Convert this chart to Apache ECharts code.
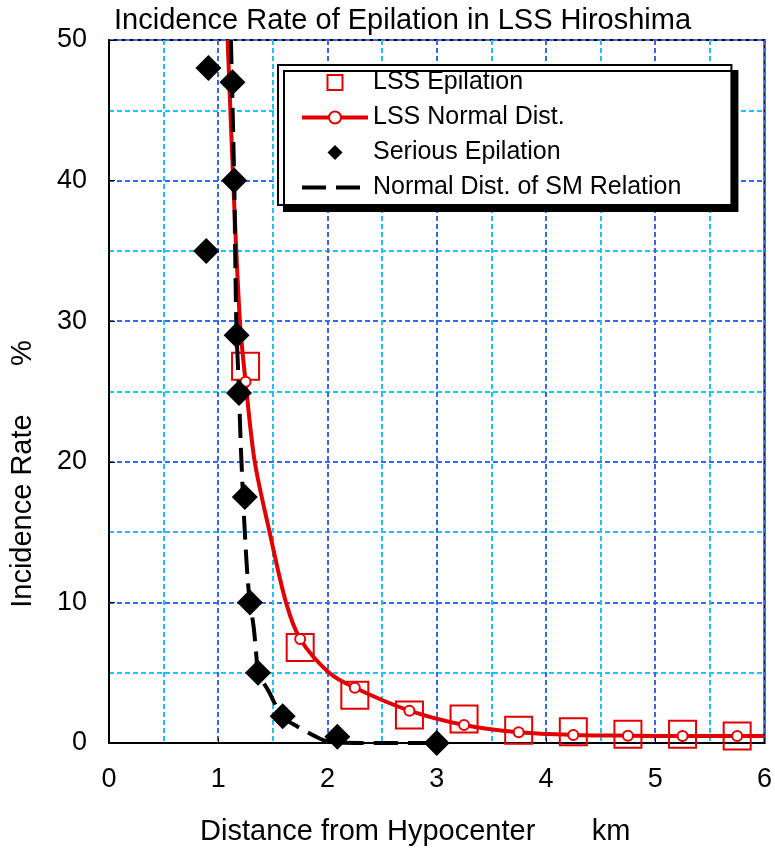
<!DOCTYPE html>
<html>
<head>
<meta charset="utf-8">
<title>Incidence Rate of Epilation in LSS Hiroshima</title>
<script src="https://cdn.jsdelivr.net/npm/echarts@6/dist/echarts.min.js"></script>
<style>
  html, body { margin: 0; padding: 0; background: #fff; }
  #chart { width: 775px; height: 853px; }
</style>
</head>
<body>
<div id="chart"></div>
<script>
// LSS epilation, open squares
const lssX = [1.25, 1.75, 2.25, 2.75, 3.25, 3.75, 4.25, 4.75, 5.25, 5.75];
const lssY = [26.8, 6.8, 3.4, 2.0, 1.7, 0.9, 0.8, 0.63, 0.63, 0.5];

// LSS normal distribution curve (circles sit on the lssX positions)
const normX = [1.086, 1.137, 1.198, 1.25, 1.334, 1.47, 1.62, 1.75, 2.015, 2.25, 2.75, 3.25, 3.75, 4.25, 4.75, 5.25, 5.75, 6.0];
const normY = [50, 40, 30, 25.7, 20, 15, 10, 7.4, 5, 3.93, 2.3, 1.28, 0.76, 0.57, 0.52, 0.5, 0.5, 0.5];

// serious epilation, diamonds
const sevX = [0.91, 1.13, 1.146, 0.89, 1.168, 1.19, 1.243, 1.29, 1.364, 1.59, 2.09, 3.0];
const sevY = [48, 47, 40, 35, 29, 24.9, 17.5, 10, 5, 1.9, 0.45, 0];

// normal dist. of SM relation, dashed black
const smX = [1.116, 1.146, 1.165, 1.19, 1.207, 1.243, 1.27, 1.29, 1.325, 1.35, 1.364, 1.455, 1.59, 1.727, 1.894, 2.01, 2.3, 3.0];
const smY = [50, 40, 30, 25, 21, 15, 11.6, 10, 8.2, 6.1, 5, 3.77, 1.87, 1.16, 0.45, 0.1, 0, 0];

const xTicks = [0, 6, 1];
const yTicks = [0, 50, 10];

const FONT = "'Liberation Sans', Arial, sans-serif";
const RED = "#e00000";

let chart = echarts.init(document.getElementById("chart"));

const normData = normX.map((x, i) => {
  const marked = lssX.indexOf(x) >= 0;
  return { value: [x, normY[i]], symbol: marked ? "circle" : "none" };
});

const option = {
  animation: false,
  title: {
    text: "Incidence Rate of Epilation in LSS Hiroshima",
    left: 109,
    top: 1,
    textStyle: { fontSize: 29, fontWeight: "normal", color: "#000", fontFamily: FONT },
  },
  legend: {
    orient: "vertical",
    left: 278,
    top: 65,
    padding: [5, 50, 5, 22],
    itemGap: 10,
    itemWidth: 66,
    itemHeight: 15,
    selectedMode: false,
    backgroundColor: "#fff",
    borderColor: "#000",
    borderWidth: 2,
    borderRadius: 0,
    shadowColor: "#000",
    shadowBlur: 0,
    shadowOffsetX: 6,
    shadowOffsetY: 6,
    lineStyle: { width: 4 },
    textStyle: { fontSize: 25, color: "#000", fontFamily: FONT },
    data: [
      {
        name: "LSS Epilation",
        icon: "path://M0 0H10V10H0Z",
        itemStyle: { color: "transparent", borderColor: RED, borderWidth: 2 },
      },
      { name: "LSS Normal Dist." },
      { name: "Serious Epilation", icon: "path://M5 0L10 5L5 10L0 5Z" },
      {
        name: "Normal Dist. of SM Relation",
        itemStyle: { color: "transparent", borderColor: "transparent", borderWidth: 0, opacity: 0 },
      },
    ],
  },
  grid: {
    left: 108,
    right: 6,
    top: 40,
    bottom: 110,
    show: true,
    borderColor: "#000",
    borderWidth: 2,
    backgroundColor: "transparent",
  },
  xAxis: {
    type: "value",
    min: xTicks[0],
    max: xTicks[1],
    interval: xTicks[2],
    name: "Distance from Hypocenter       km",
    nameLocation: "middle",
    nameGap: 74,
    nameTextStyle: { fontSize: 29, color: "#000", fontFamily: FONT, padding: [0, 43, 0, 0] },
    axisLine: { show: true, lineStyle: { color: "#000", width: 2 } },
    axisTick: { show: true, inside: true, length: 5, lineStyle: { color: "#000" } },
    axisLabel: { fontSize: 27, color: "#000", fontFamily: FONT, margin: 23 },
    splitLine: { show: true, lineStyle: { color: "#3a66f0", width: 2, type: [5, 3] } },
    minorTick: { show: false, splitNumber: 2 },
    minorSplitLine: { show: true, lineStyle: { color: "#19c4f5", width: 2, type: [5, 3] } },
  },
  yAxis: {
    type: "value",
    min: yTicks[0],
    max: yTicks[1],
    interval: yTicks[2],
    name: "Incidence Rate      %",
    nameLocation: "middle",
    nameGap: 72,
    nameTextStyle: { fontSize: 29, color: "#000", fontFamily: FONT, padding: [0, 165, 0, 0] },
    axisLine: { show: true, lineStyle: { color: "#000", width: 2 } },
    axisTick: { show: true, inside: true, length: 6, lineStyle: { color: "#000" } },
    axisLabel: { fontSize: 27, color: "#000", fontFamily: FONT, margin: 22 },
    splitLine: { show: true, lineStyle: { color: "#3a66f0", width: 2, type: [5, 3] } },
    minorTick: { show: false, splitNumber: 2 },
    minorSplitLine: { show: true, lineStyle: { color: "#19c4f5", width: 2, type: [5, 3] } },
  },
  series: [
    {
      name: "LSS Epilation",
      type: "scatter",
      symbol: "rect",
      symbolSize: 27,
      itemStyle: { color: "transparent", borderColor: RED, borderWidth: 2, opacity: 1 },
      data: lssX.map((x, i) => [x, lssY[i]]),
      z: 2,
    },
    {
      name: "LSS Normal Dist.",
      type: "line",
      smooth: 0.3,
      symbol: "circle",
      symbolSize: 10,
      showAllSymbol: true,
      lineStyle: { color: RED, width: 4 },
      itemStyle: { color: "#fff", borderColor: RED, borderWidth: 2 },
      data: normData,
      z: 3,
    },
    {
      name: "Normal Dist. of SM Relation",
      type: "line",
      smooth: 0.3,
      symbol: "none",
      lineStyle: { color: "#000", width: 4, type: [24, 10] },
      itemStyle: { color: "#000" },
      data: smX.map((x, i) => [x, smY[i]]),
      z: 4,
    },
    {
      name: "Serious Epilation",
      type: "scatter",
      symbol: "diamond",
      symbolSize: 26,
      itemStyle: { color: "#000", opacity: 1 },
      data: sevX.map((x, i) => [x, sevY[i]]),
      z: 5,
    },
  ],
};
chart.setOption(option);
</script>
</body>
</html>
